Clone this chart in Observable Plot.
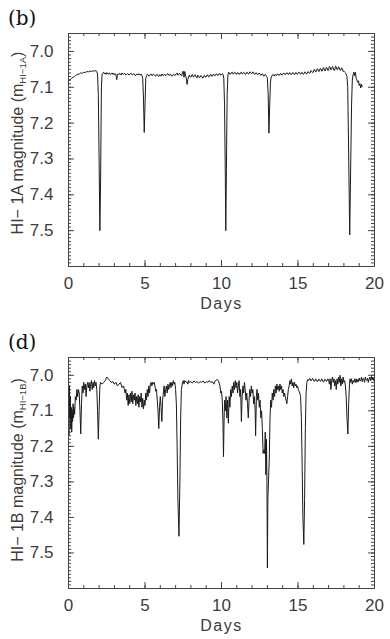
<!DOCTYPE html>
<html><head><meta charset="utf-8">
<script src="https://cdn.jsdelivr.net/npm/d3@7"></script>
<script src="https://cdn.jsdelivr.net/npm/@observablehq/plot@0.6"></script>
<style>
body{margin:0;background:#fff;}
#chart svg{display:block;}
</style></head><body><div id="chart"></div>
<script>
const panelLabels = ["(b)", "(d)"];
const yLabelMain = ["HI\u2212 1A magnitude (m", "HI\u2212 1B magnitude (m"];
const yLabelSub = ["HI\u22121A", "HI\u22121B"];
const xLabel = "Days";
const xTicks = [0, 5, 10, 15, 20];
const yTicks = [7.0, 7.1, 7.2, 7.3, 7.4, 7.5];
const xDomain = [0, 20];
const yDomain = [6.95, 7.6];

// HI-1A light curve [day, magnitude]
const hi1a = [
[0.00,7.083],[0.05,7.080],[0.10,7.079],[0.20,7.075],[0.30,7.072],[0.40,7.070],[0.50,7.066],[0.60,7.064],[0.70,7.063],[0.80,7.060],
[0.90,7.061],[1.00,7.058],[1.10,7.059],[1.20,7.056],[1.30,7.057],[1.40,7.055],[1.50,7.056],[1.60,7.054],[1.70,7.055],[1.80,7.053],
[1.85,7.056],[1.90,7.065],[1.95,7.120],[2.00,7.300],[2.05,7.500],[2.10,7.350],[2.15,7.100],[2.20,7.062],[2.25,7.060],[2.30,7.058],
[2.35,7.063],[2.40,7.060],[2.45,7.064],[2.50,7.059],[2.55,7.062],[2.60,7.064],[2.65,7.060],[2.70,7.061],[2.75,7.065],[2.80,7.063],
[2.85,7.060],[2.90,7.064],[2.95,7.061],[3.00,7.066],[3.05,7.062],[3.10,7.064],[3.15,7.079],[3.20,7.064],[3.25,7.062],[3.30,7.065],
[3.35,7.061],[3.40,7.063],[3.45,7.066],[3.50,7.060],[3.55,7.063],[3.60,7.064],[3.65,7.061],[3.70,7.062],[3.75,7.066],[3.80,7.064],
[3.85,7.062],[3.90,7.063],[3.95,7.066],[4.00,7.064],[4.05,7.062],[4.10,7.061],[4.15,7.065],[4.20,7.065],[4.25,7.062],[4.30,7.063],
[4.35,7.067],[4.40,7.067],[4.45,7.063],[4.50,7.064],[4.55,7.066],[4.60,7.062],[4.65,7.065],[4.70,7.066],[4.75,7.063],[4.80,7.067],
[4.85,7.075],[4.90,7.130],[4.95,7.226],[5.00,7.150],[5.05,7.075],[5.10,7.068],[5.15,7.064],[5.20,7.065],[5.25,7.069],[5.30,7.068],
[5.35,7.064],[5.40,7.063],[5.45,7.067],[5.50,7.067],[5.55,7.063],[5.60,7.065],[5.65,7.068],[5.70,7.069],[5.75,7.065],[5.80,7.064],
[5.85,7.068],[5.90,7.070],[5.95,7.065],[6.00,7.066],[6.05,7.069],[6.10,7.063],[6.15,7.066],[6.20,7.068],[6.25,7.064],[6.30,7.064],
[6.35,7.068],[6.40,7.066],[6.45,7.063],[6.50,7.062],[6.55,7.066],[6.60,7.067],[6.65,7.063],[6.70,7.065],[6.75,7.069],[6.80,7.068],
[6.85,7.064],[6.90,7.064],[6.95,7.067],[7.00,7.066],[7.05,7.062],[7.10,7.060],[7.15,7.066],[7.20,7.065],[7.25,7.061],[7.30,7.063],
[7.35,7.067],[7.40,7.068],[7.45,7.058],[7.50,7.055],[7.55,7.072],[7.60,7.056],[7.65,7.068],[7.70,7.075],[7.75,7.092],[7.80,7.078],
[7.85,7.070],[7.90,7.066],[7.95,7.071],[8.00,7.072],[8.05,7.066],[8.10,7.064],[8.15,7.071],[8.20,7.070],[8.25,7.065],[8.30,7.066],
[8.35,7.072],[8.40,7.074],[8.45,7.066],[8.50,7.068],[8.55,7.073],[8.60,7.072],[8.65,7.067],[8.70,7.069],[8.75,7.074],[8.80,7.074],
[8.85,7.068],[8.90,7.067],[8.95,7.072],[9.00,7.071],[9.05,7.066],[9.10,7.066],[9.15,7.071],[9.20,7.070],[9.25,7.065],[9.30,7.064],
[9.35,7.069],[9.40,7.069],[9.45,7.064],[9.50,7.064],[9.55,7.068],[9.60,7.067],[9.65,7.063],[9.70,7.063],[9.75,7.067],[9.80,7.066],
[9.85,7.062],[9.90,7.062],[9.95,7.066],[10.00,7.065],[10.05,7.062],[10.10,7.064],[10.15,7.075],[10.20,7.150],[10.25,7.350],[10.28,7.500],
[10.32,7.330],[10.37,7.120],[10.42,7.065],[10.47,7.058],[10.50,7.060],[10.55,7.064],[10.60,7.063],[10.65,7.059],[10.70,7.058],[10.75,7.063],
[10.80,7.062],[10.85,7.058],[10.90,7.059],[10.95,7.063],[11.00,7.064],[11.05,7.059],[11.10,7.060],[11.15,7.064],[11.20,7.063],[11.25,7.059],
[11.30,7.058],[11.35,7.063],[11.40,7.062],[11.45,7.058],[11.50,7.060],[11.55,7.064],[11.60,7.063],[11.65,7.058],[11.70,7.059],[11.75,7.063],
[11.80,7.062],[11.85,7.057],[11.90,7.058],[11.95,7.062],[12.00,7.061],[12.05,7.057],[12.10,7.060],[12.15,7.064],[12.20,7.063],[12.25,7.059],
[12.30,7.061],[12.35,7.065],[12.40,7.064],[12.45,7.060],[12.50,7.062],[12.55,7.066],[12.60,7.066],[12.65,7.062],[12.70,7.064],[12.75,7.069],
[12.80,7.068],[12.85,7.064],[12.90,7.066],[12.95,7.070],[13.00,7.075],[13.05,7.120],[13.10,7.228],[13.15,7.150],[13.20,7.085],[13.25,7.072],
[13.30,7.068],[13.35,7.064],[13.40,7.066],[13.45,7.069],[13.50,7.064],[13.55,7.066],[13.60,7.067],[13.65,7.063],[13.70,7.063],[13.75,7.067],
[13.80,7.066],[13.85,7.062],[13.90,7.062],[13.95,7.066],[14.00,7.065],[14.05,7.061],[14.10,7.061],[14.15,7.065],[14.20,7.064],[14.25,7.060],
[14.30,7.060],[14.35,7.064],[14.40,7.064],[14.45,7.059],[14.50,7.061],[14.55,7.065],[14.60,7.063],[14.65,7.059],[14.70,7.060],[14.75,7.064],
[14.80,7.064],[14.85,7.059],[14.90,7.060],[14.95,7.064],[15.00,7.062],[15.05,7.058],[15.10,7.059],[15.15,7.063],[15.20,7.063],[15.25,7.058],
[15.30,7.060],[15.35,7.064],[15.40,7.062],[15.45,7.057],[15.50,7.059],[15.55,7.063],[15.60,7.062],[15.65,7.056],[15.70,7.058],[15.75,7.061],
[15.80,7.060],[15.85,7.053],[15.90,7.056],[15.95,7.059],[16.00,7.058],[16.05,7.050],[16.10,7.052],[16.15,7.057],[16.20,7.056],[16.25,7.048],
[16.30,7.050],[16.35,7.056],[16.40,7.055],[16.45,7.047],[16.50,7.049],[16.55,7.055],[16.60,7.054],[16.65,7.045],[16.70,7.047],[16.75,7.054],
[16.80,7.053],[16.85,7.044],[16.90,7.046],[16.95,7.053],[17.00,7.052],[17.05,7.042],[17.10,7.044],[17.15,7.051],[17.20,7.050],[17.25,7.042],
[17.30,7.046],[17.35,7.053],[17.40,7.052],[17.45,7.041],[17.50,7.043],[17.55,7.051],[17.60,7.050],[17.65,7.043],[17.70,7.045],[17.75,7.053],
[17.80,7.052],[17.85,7.046],[17.90,7.048],[17.95,7.056],[18.00,7.055],[18.05,7.058],[18.10,7.060],[18.15,7.064],[18.20,7.070],[18.25,7.100],
[18.30,7.250],[18.38,7.512],[18.45,7.300],[18.50,7.150],[18.55,7.080],[18.60,7.065],[18.65,7.058],[18.70,7.068],[18.75,7.058],[18.80,7.075],
[18.85,7.080],[18.90,7.086],[18.95,7.082],[19.00,7.095],[19.05,7.090],[19.10,7.102],[19.15,7.092],[19.20,7.098]
];

// HI-1B light curve [day, magnitude]
const hi1b = [
[0.00,7.050],[0.03,7.170],[0.06,7.030],[0.09,7.120],[0.12,7.060],[0.15,7.150],[0.18,7.090],[0.21,7.160],[0.24,7.100],[0.27,7.130],
[0.30,7.080],[0.33,7.120],[0.36,7.090],[0.40,7.110],[0.45,7.060],[0.50,7.070],[0.55,7.040],[0.60,7.060],[0.65,7.040],[0.70,7.050],
[0.75,7.100],[0.80,7.165],[0.85,7.080],[0.90,7.030],[0.95,7.050],[1.00,7.020],[1.05,7.040],[1.10,7.025],[1.15,7.060],[1.20,7.030],
[1.25,7.020],[1.30,7.035],[1.35,7.020],[1.40,7.045],[1.45,7.025],[1.50,7.015],[1.55,7.040],[1.60,7.020],[1.65,7.035],[1.70,7.015],
[1.75,7.030],[1.80,7.020],[1.85,7.040],[1.90,7.100],[1.95,7.180],[2.00,7.100],[2.05,7.030],[2.10,7.020],[2.20,7.025],[2.30,7.020],
[2.40,7.015],[2.50,7.005],[2.60,7.010],[2.70,7.015],[2.80,7.020],[2.90,7.018],[3.00,7.025],[3.10,7.020],[3.20,7.030],[3.30,7.025],
[3.40,7.020],[3.50,7.035],[3.60,7.030],[3.70,7.050],[3.75,7.040],[3.80,7.070],[3.85,7.050],[3.90,7.085],[3.95,7.055],[4.00,7.080],
[4.05,7.050],[4.10,7.075],[4.15,7.045],[4.20,7.080],[4.25,7.055],[4.30,7.070],[4.35,7.050],[4.40,7.085],[4.45,7.060],[4.50,7.080],
[4.55,7.055],[4.60,7.090],[4.65,7.060],[4.70,7.075],[4.75,7.050],[4.80,7.090],[4.85,7.065],[4.90,7.095],[4.95,7.070],[5.00,7.085],
[5.05,7.050],[5.10,7.070],[5.15,7.040],[5.20,7.060],[5.25,7.030],[5.30,7.050],[5.35,7.025],[5.40,7.020],[5.45,7.030],[5.50,7.020],
[5.55,7.025],[5.60,7.020],[5.65,7.030],[5.70,7.045],[5.75,7.040],[5.80,7.070],[5.85,7.100],[5.90,7.150],[5.95,7.090],[6.00,7.060],
[6.05,7.090],[6.10,7.130],[6.15,7.070],[6.20,7.050],[6.25,7.030],[6.30,7.060],[6.35,7.040],[6.40,7.030],[6.45,7.050],[6.50,7.025],
[6.55,7.040],[6.60,7.030],[6.65,7.020],[6.70,7.035],[6.75,7.020],[6.80,7.030],[6.85,7.015],[6.90,7.025],[6.95,7.020],[7.00,7.040],
[7.05,7.080],[7.10,7.200],[7.15,7.350],[7.22,7.453],[7.28,7.300],[7.33,7.120],[7.38,7.040],[7.45,7.020],[7.50,7.015],[7.55,7.025],
[7.60,7.015],[7.70,7.020],[7.75,7.018],[7.80,7.025],[7.85,7.015],[7.90,7.020],[8.00,7.018],[8.10,7.022],[8.20,7.016],[8.30,7.020],
[8.40,7.018],[8.50,7.022],[8.60,7.018],[8.70,7.020],[8.80,7.016],[8.90,7.022],[9.00,7.018],[9.10,7.020],[9.20,7.015],[9.30,7.020],
[9.40,7.018],[9.50,7.025],[9.60,7.015],[9.70,7.012],[9.80,7.015],[9.90,7.030],[9.95,7.050],[10.00,7.045],[10.05,7.070],[10.10,7.140],
[10.13,7.229],[10.17,7.120],[10.20,7.070],[10.25,7.100],[10.30,7.060],[10.35,7.120],[10.40,7.070],[10.45,7.135],[10.50,7.060],[10.55,7.090],
[10.60,7.040],[10.65,7.060],[10.70,7.030],[10.75,7.050],[10.80,7.020],[10.85,7.040],[10.90,7.015],[10.95,7.035],[11.00,7.020],[11.05,7.050],
[11.10,7.030],[11.15,7.015],[11.20,7.060],[11.25,7.040],[11.30,7.130],[11.35,7.060],[11.40,7.030],[11.45,7.050],[11.50,7.020],[11.55,7.040],
[11.60,7.070],[11.65,7.050],[11.70,7.080],[11.75,7.120],[11.80,7.070],[11.85,7.040],[11.90,7.060],[11.95,7.030],[12.00,7.050],[12.05,7.040],
[12.10,7.080],[12.15,7.060],[12.20,7.100],[12.23,7.170],[12.28,7.060],[12.32,7.040],[12.37,7.070],[12.42,7.050],[12.47,7.090],[12.52,7.070],
[12.57,7.120],[12.62,7.100],[12.67,7.150],[12.72,7.220],[12.77,7.210],[12.82,7.220],[12.86,7.160],[12.90,7.280],[12.94,7.180],[12.97,7.300],
[13.00,7.542],[13.03,7.350],[13.07,7.300],[13.12,7.240],[13.17,7.120],[13.22,7.070],[13.27,7.090],[13.32,7.050],[13.37,7.070],[13.42,7.040],
[13.47,7.060],[13.52,7.030],[13.57,7.050],[13.62,7.025],[13.67,7.040],[13.72,7.030],[13.77,7.045],[13.82,7.025],[13.87,7.040],[13.92,7.030],
[13.97,7.050],[14.02,7.040],[14.07,7.060],[14.12,7.050],[14.17,7.060],[14.22,7.070],[14.27,7.080],[14.32,7.060],[14.37,7.040],[14.42,7.030],
[14.47,7.015],[14.52,7.025],[14.57,7.010],[14.62,7.030],[14.67,7.020],[14.72,7.035],[14.77,7.020],[14.82,7.030],[14.87,7.025],[14.92,7.035],
[14.97,7.030],[15.02,7.040],[15.07,7.045],[15.12,7.050],[15.17,7.060],[15.22,7.120],[15.27,7.250],[15.32,7.400],[15.38,7.476],[15.43,7.350],
[15.48,7.150],[15.53,7.050],[15.58,7.020],[15.63,7.012],[15.70,7.015],[15.75,7.009],[15.80,7.010],[15.85,7.016],[15.90,7.014],[15.95,7.009],
[16.00,7.012],[16.05,7.017],[16.10,7.016],[16.15,7.010],[16.20,7.013],[16.25,7.018],[16.30,7.017],[16.35,7.011],[16.40,7.012],[16.45,7.017],
[16.50,7.016],[16.55,7.010],[16.60,7.014],[16.65,7.019],[16.70,7.018],[16.75,7.011],[16.80,7.012],[16.85,7.017],[16.90,7.016],[16.95,7.010],
[17.00,7.012],[17.05,7.025],[17.10,7.010],[17.15,7.040],[17.20,7.015],[17.25,7.005],[17.30,7.020],[17.35,7.010],[17.40,7.030],[17.45,7.015],
[17.50,7.040],[17.55,7.010],[17.60,7.025],[17.65,7.005],[17.70,7.020],[17.75,7.000],[17.80,7.030],[17.85,7.010],[17.90,7.025],[17.95,7.005],
[18.00,7.020],[18.05,7.015],[18.10,7.030],[18.15,7.060],[18.20,7.120],[18.26,7.165],[18.31,7.080],[18.36,7.030],[18.40,7.010],[18.45,7.020],
[18.50,7.010],[18.55,7.025],[18.60,7.015],[18.65,7.020],[18.70,7.010],[18.75,7.020],[18.80,7.010],[18.85,7.020],[18.90,7.012],[18.95,7.018],
[19.00,7.008],[19.05,7.016],[19.10,7.015],[19.15,7.005],[19.20,7.018],[19.25,7.009],[19.30,7.010],[19.35,7.020],[19.40,7.005],[19.45,7.012],
[19.50,7.015],[19.55,7.008],[19.60,7.020],[19.65,7.010],[19.70,7.005],[19.75,7.015],[19.80,7.003],[19.85,7.012],[19.90,7.005],[19.95,7.015],
[20.00,7.008]
];

const xMinor = d3.range(xDomain[0], xDomain[1] + 0.5, 1);
const yMinor = d3.range(Math.round(yDomain[0] * 100), Math.round(yDomain[1] * 100) + 1).map(d => d / 100);

const sansFont = "'Liberation Sans', Arial, sans-serif";
const axisColor = "#444";
const textColor = "#3c3c3c";

function panel(series, i, cfg) {
  const W = 390, ml = 68, mr = 16;
  const innerH = cfg.height - cfg.mt - cfg.mb;
  const innerW = W - ml - mr;
  const minor = 3, major = 6;
  const plot = Plot.plot({
    width: W, height: cfg.height,
    marginLeft: ml, marginRight: mr, marginTop: cfg.mt, marginBottom: cfg.mb,
    style: {fontFamily: sansFont, fontSize: "17px", color: textColor, background: "#fff", overflow: "visible"},
    x: {domain: xDomain},
    y: {domain: yDomain, reverse: true},
    marks: [
      Plot.tickX(xMinor, {x: d => d, insetTop: innerH - minor, stroke: axisColor}),
      Plot.tickX(xMinor, {x: d => d, insetBottom: innerH - minor, stroke: axisColor}),
      Plot.tickX(xTicks, {x: d => d, insetTop: innerH - major, stroke: axisColor}),
      Plot.tickX(xTicks, {x: d => d, insetBottom: innerH - major, stroke: axisColor}),
      Plot.tickY(yMinor, {y: d => d, insetRight: innerW - minor, stroke: axisColor}),
      Plot.tickY(yMinor, {y: d => d, insetLeft: innerW - minor, stroke: axisColor}),
      Plot.tickY(yTicks, {y: d => d, insetRight: innerW - major, stroke: axisColor}),
      Plot.tickY(yTicks, {y: d => d, insetLeft: innerW - major, stroke: axisColor}),
      Plot.line(series, {x: d => d[0], y: d => d[1], stroke: "#1a1a1a", strokeWidth: 1}),
      Plot.frame({stroke: axisColor, strokeWidth: 1}),
      Plot.axisX({ticks: xTicks, tickSize: 0, tickPadding: 10, tickFormat: d => String(d), label: null, fill: textColor}),
      Plot.axisY({ticks: yTicks, tickSize: 0, tickPadding: 15, tickFormat: d3.format(".1f"), label: null, fill: textColor}),
      Plot.text([xLabel], {frameAnchor: "bottom", text: d => d, dy: 37, lineAnchor: "middle", fill: textColor, fontSize: 16})
    ]
  });
  const svg = d3.select(plot);
  svg.selectAll("g[aria-label='text'] text").style("letter-spacing", "1.5px");
  svg.append("text")
    .attr("x", 8).attr("y", cfg.labelBase)
    .attr("text-anchor", "start")
    .attr("font-family", "'DejaVu Serif', 'Liberation Serif', serif")
    .attr("font-size", 20).attr("fill", "#111")
    .text(panelLabels[i]);
  const t = svg.append("text")
    .attr("transform", `translate(23,${cfg.ylabCenter}) rotate(-90)`)
    .attr("text-anchor", "middle")
    .attr("font-family", sansFont).attr("font-size", 16).attr("fill", textColor);
  t.append("tspan").text(yLabelMain[i]);
  t.append("tspan").attr("font-size", 9.5).attr("dy", 3).text(yLabelSub[i]);
  t.append("tspan").attr("dy", -3).text(")");
  return plot;
}

const root = document.getElementById("chart");
root.appendChild(panel(hi1a, 0, {height: 320, mt: 33, mb: 54, labelBase: 25, ylabCenter: 143}));
root.appendChild(panel(hi1b, 1, {height: 319, mt: 37, mb: 51, labelBase: 29, ylabCenter: 150}));
</script>
</body></html>
